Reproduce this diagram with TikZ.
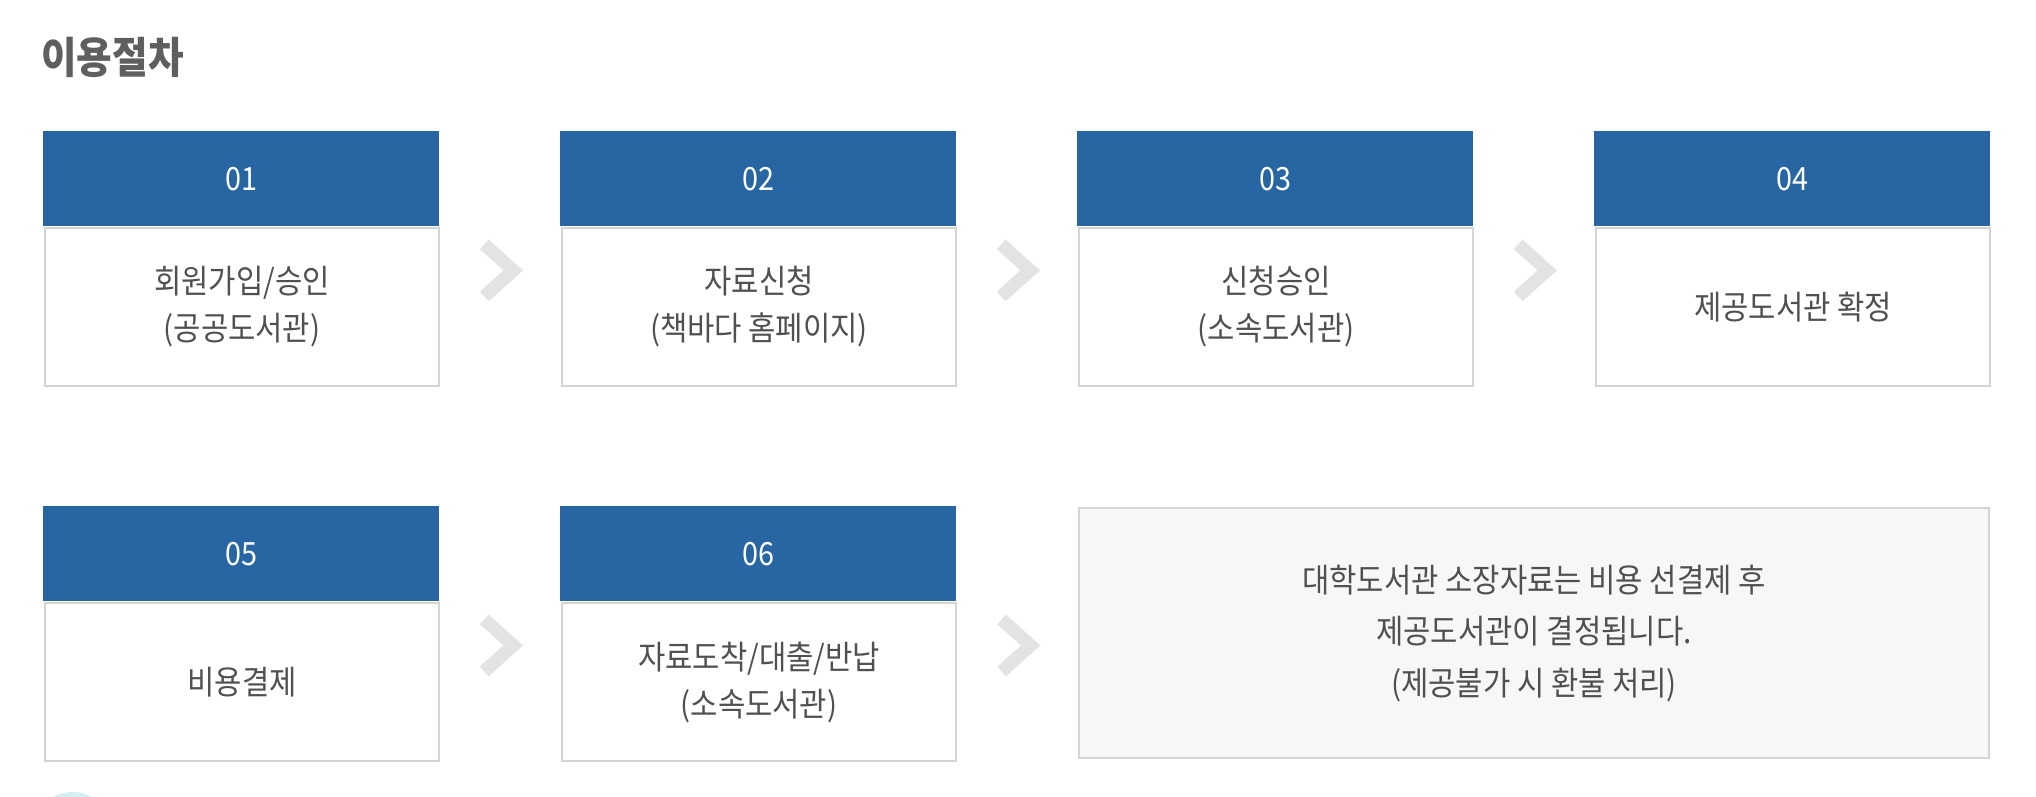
\documentclass[tikz,border=0pt]{standalone}
\usepackage{fontspec}
\setmainfont{Noto Sans CJK KR}[FakeStretch=0.9]
\usetikzlibrary{calc}
\definecolor{hblue}{RGB}{39,102,163}
\definecolor{boxgray}{RGB}{212,212,212}
\definecolor{chevgray}{RGB}{227,227,227}
\definecolor{txtgray}{RGB}{80,80,80}
\definecolor{titlegray}{RGB}{95,95,95}
\definecolor{notefill}{RGB}{247,247,247}
\definecolor{dotcyan}{RGB}{214,238,243}
\begin{document}
\begin{tikzpicture}[x=1pt,y=-1pt,
  hdr/.style={fill=hblue, text=white, minimum width=396pt, minimum height=95pt,
    inner sep=0pt, anchor=north west, font=\fontsize{32}{38}\selectfont},
  bodybox/.style={draw=boxgray, line width=2pt, fill=white, minimum width=394pt,
    minimum height=158pt, inner sep=0pt, anchor=north west, text=txtgray,
    align=center, font=\fontsize{33}{47}\selectfont},
  notebox/.style={draw=boxgray, line width=2pt, fill=notefill, minimum width=910pt,
    minimum height=250pt, inner sep=0pt, anchor=north west, text=txtgray,
    align=center, font=\fontsize{33}{51.5}\selectfont},
  chev/.style={draw=chevgray, line width=13pt, line join=miter, miter limit=10},
  titletext/.style={anchor=west, inner sep=0pt, text=titlegray,
    font=\fontsize{43}{50}\selectfont\bfseries}
]
\clip (0,0) rectangle (2036,796);
\fill[white] (0,0) rectangle (2036,796);

\node[titletext] (title) at (41,57) {이용절차};

% row 1
\node[bodybox] (b1) at (44,227) {회원가입/승인\\(공공도서관)};
\node[bodybox] (b2) at (561,227) {자료신청\\(책바다 홈페이지)};
\node[bodybox] (b3) at (1078,227) {신청승인\\(소속도서관)};
\node[bodybox] (b4) at (1595,227) {제공도서관 확정};
\node[hdr] (h1) at (43,131) {01};
\node[hdr] (h2) at (560,131) {02};
\node[hdr] (h3) at (1077,131) {03};
\node[hdr] (h4) at (1594,131) {04};

% row 2
\node[bodybox] (b5) at (44,602) {비용결제};
\node[bodybox] (b6) at (561,602) {자료도착/대출/반납\\(소속도서관)};
\node[hdr] (h5) at (43,506) {05};
\node[hdr] (h6) at (560,506) {06};
\node[notebox] (g) at (1078,507) {대학도서관 소장자료는 비용 선결제 후\\제공도서관이 결정됩니다.\\(제공불가 시 환불 처리)};

% chevrons
\foreach \a/\b in {1/2,2/3,3/4,5/6}{
  \coordinate (m\a) at ($(h\a.south east)!0.5!(h\b.south west)+(0,44)$);
  \draw[chev] ($(m\a)+(-15.5,-26)$) -- ($(m\a)+(13.5,0)$) -- ($(m\a)+(-15.5,26)$);
}
\coordinate (m6) at ($(h6.south east)!0.5!(h6.south -| g.west)+(0,44)$);
\draw[chev] ($(m6)+(-15.5,-26)$) -- ($(m6)+(13.5,0)$) -- ($(m6)+(-15.5,26)$);

% partial icon at the bottom edge
\fill[dotcyan] (72.5,832) circle (40);
\end{tikzpicture}
\end{document}
